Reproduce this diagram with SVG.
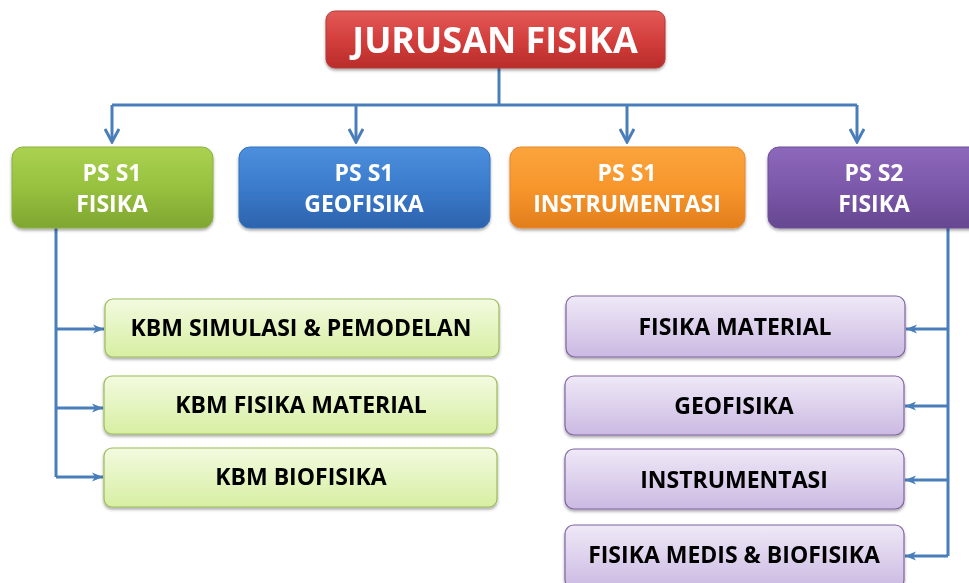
<svg xmlns="http://www.w3.org/2000/svg" width="969" height="583" viewBox="0 0 969 583">
<defs>
  <linearGradient id="gRed" x1="0" y1="0" x2="0" y2="1">
    <stop offset="0" stop-color="#e35a57"/><stop offset="0.5" stop-color="#d33f3c"/><stop offset="1" stop-color="#b92c2a"/>
  </linearGradient>
  <linearGradient id="gGreen" x1="0" y1="0" x2="0" y2="1">
    <stop offset="0" stop-color="#abd151"/><stop offset="0.5" stop-color="#97c13f"/><stop offset="1" stop-color="#7fa630"/>
  </linearGradient>
  <linearGradient id="gBlue" x1="0" y1="0" x2="0" y2="1">
    <stop offset="0" stop-color="#4d8fdc"/><stop offset="0.5" stop-color="#3b7bcc"/><stop offset="1" stop-color="#2d63ad"/>
  </linearGradient>
  <linearGradient id="gOrange" x1="0" y1="0" x2="0" y2="1">
    <stop offset="0" stop-color="#fba43c"/><stop offset="0.5" stop-color="#f7962c"/><stop offset="1" stop-color="#e27e1c"/>
  </linearGradient>
  <linearGradient id="gPurple" x1="0" y1="0" x2="0" y2="1">
    <stop offset="0" stop-color="#8d68bb"/><stop offset="0.5" stop-color="#7c58aa"/><stop offset="1" stop-color="#654790"/>
  </linearGradient>
  <linearGradient id="gLGreen" x1="0" y1="0" x2="0" y2="1">
    <stop offset="0" stop-color="#f3fae0"/><stop offset="1" stop-color="#d7efa2"/>
  </linearGradient>
  <linearGradient id="gLPurple" x1="0" y1="0" x2="0" y2="1">
    <stop offset="0" stop-color="#efe9f7"/><stop offset="1" stop-color="#cbb9e2"/>
  </linearGradient>
  <filter id="sh" x="-10%" y="-10%" width="120%" height="130%">
    <feDropShadow dx="0" dy="2" stdDeviation="1.5" flood-color="#000" flood-opacity="0.35"/>
  </filter>
  <marker id="arrOpen" viewBox="0 0 16 16" refX="14" refY="8" markerWidth="16" markerHeight="16" markerUnits="userSpaceOnUse" orient="auto">
    <path d="M1,1 L14,8 L1,15" fill="none" stroke="#4a7ebb" stroke-width="3"/>
  </marker>
  <marker id="arrFill" viewBox="0 0 12 10" refX="11" refY="5" markerWidth="12" markerHeight="10" markerUnits="userSpaceOnUse" orient="auto">
    <path d="M0,0.5 L11,5 L0,9.5 L3,5 Z" fill="#4a7ebb"/>
  </marker>
  <style>
    .conn { fill: none; stroke: #4a7ebb; stroke-width: 3; }
    .top { font-family: "Open Sans", "Liberation Sans", sans-serif; font-weight: bold; fill: #ffffff; text-anchor: middle; }
    .sub { font-family: "Open Sans", "Liberation Sans", sans-serif; font-weight: bold; fill: #000000; text-anchor: middle; font-size: 23px; }
    .lg { stroke: #9bbb59; stroke-width: 1.2; fill: url(#gLGreen); }
    .lp { stroke: #8064a2; stroke-width: 1.2; fill: url(#gLPurple); }
  </style>
</defs>
<rect width="969" height="583" fill="#ffffff"/>

<g id="connectors">
  <path class="conn" d="M499,68 V105"/>
  <path class="conn" d="M112,105 H857"/>
  <path class="conn" d="M112,105 V142" marker-end="url(#arrOpen)"/>
  <path class="conn" d="M356,105 V142" marker-end="url(#arrOpen)"/>
  <path class="conn" d="M627,105 V142" marker-end="url(#arrOpen)"/>
  <path class="conn" d="M857,105 V142" marker-end="url(#arrOpen)"/>
  <path class="conn" d="M56,228 V477"/>
  <path class="conn" d="M56,329 H104" marker-end="url(#arrFill)"/>
  <path class="conn" d="M56,408 H103" marker-end="url(#arrFill)"/>
  <path class="conn" d="M56,477 H103" marker-end="url(#arrFill)"/>
  <path class="conn" d="M948,228 V556"/>
  <path class="conn" d="M948,329 H906" marker-end="url(#arrFill)"/>
  <path class="conn" d="M948,406 H905" marker-end="url(#arrFill)"/>
  <path class="conn" d="M948,480 H905" marker-end="url(#arrFill)"/>
  <path class="conn" d="M948,556 H905" marker-end="url(#arrFill)"/>
</g>

<g id="jurusan" filter="url(#sh)">
  <rect x="326" y="11" width="339" height="57" rx="9" fill="url(#gRed)" stroke="#b33a38" stroke-width="1"/>
  <text class="top" x="495" y="53" font-size="36">JURUSAN FISIKA</text>
</g>

<g id="ps-s1-fisika" filter="url(#sh)">
  <rect x="12" y="147" width="201" height="81" rx="11" fill="url(#gGreen)" stroke="#8cb03f" stroke-width="1"/>
  <text class="top" x="112" y="181" font-size="23">PS S1</text>
  <text class="top" x="112" y="212" font-size="23">FISIKA</text>
</g>
<g id="ps-s1-geofisika" filter="url(#sh)">
  <rect x="239" y="147" width="251" height="81" rx="11" fill="url(#gBlue)" stroke="#3470bb" stroke-width="1"/>
  <text class="top" x="364" y="181" font-size="23">PS S1</text>
  <text class="top" x="364" y="212" font-size="23">GEOFISIKA</text>
</g>
<g id="ps-s1-instrumentasi" filter="url(#sh)">
  <rect x="510" y="147" width="235" height="81" rx="11" fill="url(#gOrange)" stroke="#e8882a" stroke-width="1"/>
  <text class="top" x="627" y="181" font-size="23">PS S1</text>
  <text class="top" x="627" y="212" font-size="23">INSTRUMENTASI</text>
</g>
<g id="ps-s2-fisika" filter="url(#sh)">
  <rect x="768" y="147" width="220" height="81" rx="11" fill="url(#gPurple)" stroke="#6f4f9c" stroke-width="1"/>
  <text class="top" x="874" y="181" font-size="23">PS S2</text>
  <text class="top" x="874" y="212" font-size="23">FISIKA</text>
</g>

<g id="kbm-simulasi" filter="url(#sh)">
  <rect class="lg" x="105" y="299" width="394" height="58" rx="8"/>
  <text class="sub" x="301" y="336">KBM SIMULASI &amp; PEMODELAN</text>
</g>
<g id="kbm-fisika-material" filter="url(#sh)">
  <rect class="lg" x="104" y="376" width="393" height="58" rx="8"/>
  <text class="sub" x="301" y="413">KBM FISIKA MATERIAL</text>
</g>
<g id="kbm-biofisika" filter="url(#sh)">
  <rect class="lg" x="104" y="448" width="393" height="59" rx="8"/>
  <text class="sub" x="301" y="485">KBM BIOFISIKA</text>
</g>

<g id="fisika-material" filter="url(#sh)">
  <rect class="lp" x="566" y="296" width="339" height="61" rx="9"/>
  <text class="sub" x="735" y="335">FISIKA MATERIAL</text>
</g>
<g id="geofisika" filter="url(#sh)">
  <rect class="lp" x="565" y="376" width="339" height="59" rx="9"/>
  <text class="sub" x="734" y="414">GEOFISIKA</text>
</g>
<g id="instrumentasi" filter="url(#sh)">
  <rect class="lp" x="565" y="449" width="339" height="60" rx="9"/>
  <text class="sub" x="734" y="488">INSTRUMENTASI</text>
</g>
<g id="fisika-medis" filter="url(#sh)">
  <rect class="lp" x="565" y="525" width="339" height="64" rx="9"/>
  <text class="sub" x="734" y="563">FISIKA MEDIS &amp; BIOFISIKA</text>
</g>
</svg>
